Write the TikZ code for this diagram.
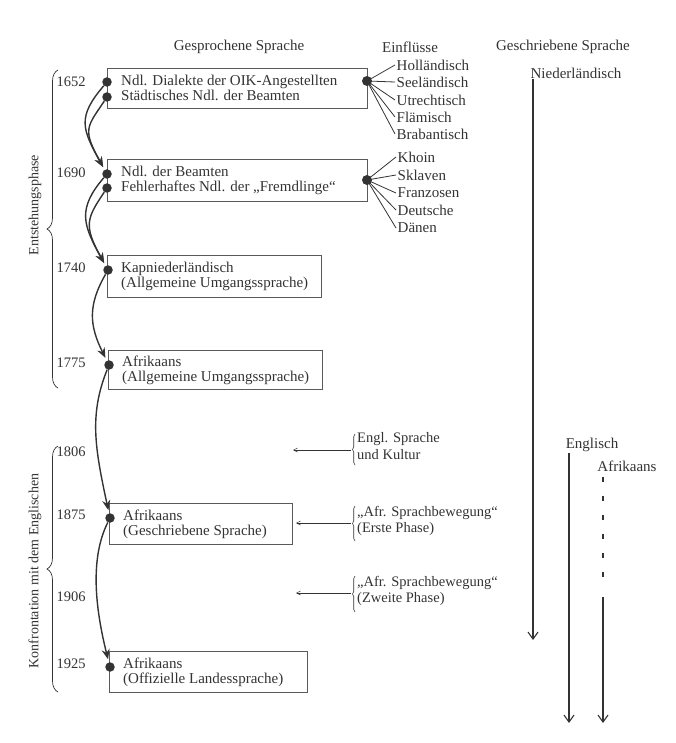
\documentclass[tikz,border=0pt]{standalone}
\usepackage{fontspec}
\setmainfont{Liberation Serif}
\usetikzlibrary{arrows.meta,decorations.pathreplacing}

\definecolor{ink}{HTML}{333333}
\definecolor{frame}{HTML}{5A5A5A}

\tikzset{
  txt/.style={font=\fontsize{15}{17}\selectfont, text=ink, inner sep=1pt},
  stagebox/.style={draw=frame, line width=0.7pt, anchor=north west, inner sep=0pt},
  stagetext/.style={anchor=west, xshift=14pt, align=left, inner sep=0pt,
    font=\fontsize{15}{15}\selectfont, text=ink},
  dot/.style={circle, fill=ink, inner sep=0pt, minimum size=9.5pt},
  flow/.style={draw=ink, line width=1.4pt, -{Stealth[length=10pt,width=8pt]}},
  fan/.style={draw=ink, line width=0.8pt},
  infl/.style={txt, anchor=west, inner sep=1.5pt},
  year/.style={txt, font=\fontsize{14.5}{17}\selectfont},
  period/.style={txt, rotate=90, font=\fontsize{14}{17}\selectfont},
  bigbrace/.style={draw=ink, line width=0.7pt, decorate, decoration={brace, amplitude=11pt}},
  smallbrace/.style={draw=ink, line width=0.6pt, decorate, decoration={brace, amplitude=2.5pt}},
  side/.style={txt, anchor=north west, align=left, font=\fontsize{14.5}{16.5}\selectfont},
  push/.style={draw=ink, line width=0.55pt, -{Straight Barb[length=4pt,width=4pt]}},
  track/.style={draw=ink, line width=1.1pt, -{Straight Barb[length=7pt,width=10pt]}},
}

\begin{document}
\begin{tikzpicture}[x=1pt, y=-1pt]
\useasboundingbox (0,0) rectangle (675,743);

% column headings
\node[txt] (hspoken) at (239,47) {Gesprochene Sprache};
\node[txt] (hinfl)   at (410,47) {Einflüsse};
\node[txt] (hwritten) at (563,47) {Geschriebene Sprache};

% stages of the spoken language: frames, then their texts
\node[stagebox, minimum width=260pt, minimum height=40pt] (b1) at (107,68) {};
\node[stagebox, minimum width=260pt, minimum height=42pt] (b2) at (107,159) {};
\node[stagebox, minimum width=214pt, minimum height=42pt] (b3) at (107,255) {};
\node[stagebox, minimum width=214pt, minimum height=39pt] (b4) at (108,350) {};
\node[stagebox, minimum width=183pt, minimum height=41pt] (b5) at (109,503) {};
\node[stagebox, minimum width=198pt, minimum height=41pt] (b6) at (109,651) {};

\node[stagetext] (t1) at (b1.west) {Ndl. Dialekte der OIK-Angestellten\\Städtisches Ndl. der Beamten};
\node[stagetext] (t2) at (b2.west) {Ndl. der Beamten\\Fehlerhaftes Ndl. der „Fremdlinge“};
\node[stagetext] (t3) at (b3.west) {Kapniederländisch\\(Allgemeine Umgangssprache)};
\node[stagetext] (t4) at (b4.west) {Afrikaans\\(Allgemeine Umgangssprache)};
\node[stagetext] (t5) at (b5.west) {Afrikaans\\(Geschriebene Sprache)};
\node[stagetext] (t6) at (b6.west) {Afrikaans\\(Offizielle Landessprache)};

% years
\node[year] (y1) at (71,82)  {1652};
\node[year] (y2) at (71,173) {1690};
\node[year] (y3) at (71,268) {1740};
\node[year] (y4) at (71,363) {1775};
\node[year] (y5) at (71,452) {1806};
\node[year] (y6) at (71,515) {1875};
\node[year] (y7) at (71,597) {1906};
\node[year] (y8) at (71,664) {1925};

% dots on the frames
\node[dot] (d1a) at (107,82)  {};
\node[dot] (d1b) at (107,97)  {};
\node[dot] (d2a) at (107,174) {};
\node[dot] (d2b) at (107,188) {};
\node[dot] (d3)  at (108,270) {};
\node[dot] (d4)  at (109,365) {};
\node[dot] (d5)  at (110,518) {};
\node[dot] (d6)  at (110,667) {};

% development arrows
\draw[flow, shorten >=3pt] (d1a) .. controls +(-30,35) and +(-25,-45) .. (d2a);
\draw[flow, shorten >=3pt] (d1b) .. controls +(-20,30) and +(-25,-45) .. (d2a);
\draw[flow, shorten >=3pt] (d2a) .. controls +(-30,35) and +(-25,-45) .. (d3);
\draw[flow, shorten >=3pt] (d2b) .. controls +(-20,30) and +(-25,-45) .. (d3);
\draw[flow, shorten >=3pt] (d3) .. controls +(-20,35) and +(-20,-40) .. (d4);
\draw[flow, shorten >=3pt] (d4) .. controls +(-20,50) and +(-15,-70) .. (d5);
\draw[flow, shorten >=3pt] (d5) .. controls +(-20,40) and +(-15,-60) .. (d6);

% influences on the first stage
\node[dot, minimum size=10pt] (i1) at (367,81) {};
\node[infl] (n1) at (395,65)  {Holländisch};
\node[infl] (n2) at (395,82)  {Seeländisch};
\node[infl] (n3) at (395,100) {Utrechtisch};
\node[infl] (n4) at (395,117) {Flämisch};
\node[infl] (n5) at (395,134) {Brabantisch};
\foreach \n in {n1,n2,n3,n4,n5} \draw[fan] (i1.center) -- (\n.west);

% influences on the second stage
\node[dot, minimum size=10pt] (i2) at (367,180) {};
\node[infl] (m1) at (396,157) {Khoin};
\node[infl] (m2) at (396,175) {Sklaven};
\node[infl] (m3) at (396,193) {Franzosen};
\node[infl] (m4) at (396,210) {Deutsche};
\node[infl] (m5) at (396,228) {Dänen};
\foreach \n in {m1,m2,m3,m4,m5} \draw[fan] (i2.center) -- (\n.west);

% period braces
\draw[bigbrace] (58,388) -- (58,70);
\node[period] (p1) at (35,205) {Entstehungsphase};
\draw[bigbrace] (58,692) -- (58,446);
\node[period] (p2) at (35,571) {Konfrontation mit dem Englischen};

% English-era influences
\draw[smallbrace] (355,465) -- (355,434);
\node[side, font=\fontsize{14.5}{17.5}\selectfont] (e1) at (356,431)
  {Engl. Sprache\\und Kultur};
\coordinate (e1tip) at (351,450);
\coordinate (e1end) at (293,450);
\draw[push] (e1tip) -- (e1end);

\draw[smallbrace] (355,541) -- (355,506);
\node[side] (e2) at (356,505)
  {„Afr. Sprachbewegung“\\(Erste Phase)};
\coordinate (e2tip) at (351,523);
\coordinate (e2end) at (296,523);
\draw[push] (e2tip) -- (e2end);

\draw[smallbrace] (355,612) -- (355,576);
\node[side] (e3) at (356,575)
  {„Afr. Sprachbewegung“\\(Zweite Phase)};
\coordinate (e3tip) at (351,593);
\coordinate (e3end) at (296,593);
\draw[push] (e3tip) -- (e3end);

% written language tracks
\node[txt] (wnl) at (576,73) {Niederländisch};
\coordinate (wnlend) at (533,640);
\draw[track] (wnl.south -| wnlend) -- (wnlend);

\node[txt] (wen) at (592,445) {Englisch};
\coordinate (wenend) at (569,723);
\draw[track] (wen.south -| wenend) -- (wenend);

\node[txt] (waf) at (627,466) {Afrikaans};
\coordinate (wafmid) at (603,597);
\coordinate (wafend) at (603,723);
\draw[draw=ink, line width=1.2pt, dash pattern=on 5pt off 14pt] (waf.south -| wafmid) ++(0,4) -- (603,590);
\draw[track] (wafmid) -- (wafend);
\end{tikzpicture}
\end{document}
